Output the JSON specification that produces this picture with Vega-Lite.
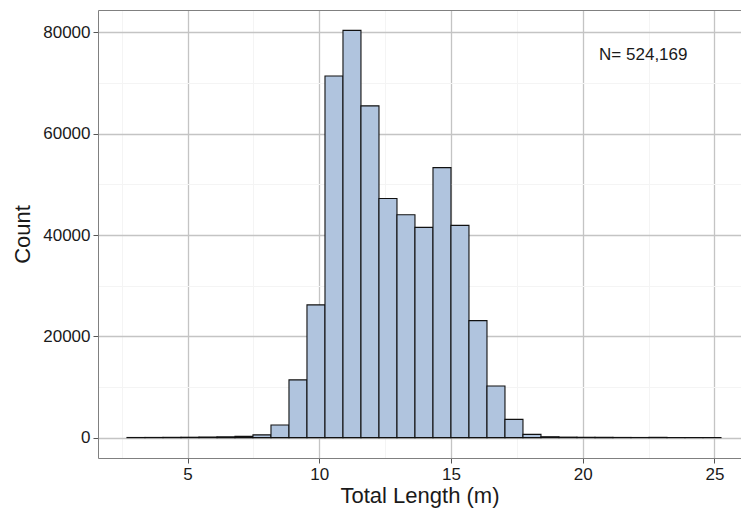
{
  "$schema": "https://vega.github.io/schema/vega-lite/v6.json",
  "autosize": {"type": "none"},
  "padding": {"left": 98, "top": 10, "right": 0, "bottom": 50},
  "width": 643,
  "height": 448,
  "background": "white",
  "config": {
    "view": {"stroke": null},
    "font": "Liberation Sans",
    "axis": {
      "labelFont": "Liberation Sans",
      "titleFont": "Liberation Sans",
      "labelColor": "#1a1a1a",
      "titleColor": "#1a1a1a",
      "titleFontWeight": "normal",
      "domainColor": "#808080",
      "domainWidth": 1
    }
  },
  "layer": [
    {
      "data": {
        "values": [
          {"start": 2.700, "end": 3.383, "count": 30},
          {"start": 3.383, "end": 4.067, "count": 40},
          {"start": 4.067, "end": 4.750, "count": 60},
          {"start": 4.750, "end": 5.433, "count": 80},
          {"start": 5.433, "end": 6.117, "count": 120},
          {"start": 6.117, "end": 6.800, "count": 180},
          {"start": 6.800, "end": 7.483, "count": 250},
          {"start": 7.483, "end": 8.167, "count": 550},
          {"start": 8.167, "end": 8.850, "count": 2500},
          {"start": 8.850, "end": 9.533, "count": 11400},
          {"start": 9.533, "end": 10.217, "count": 26200},
          {"start": 10.217, "end": 10.900, "count": 71400},
          {"start": 10.900, "end": 11.583, "count": 80400},
          {"start": 11.583, "end": 12.267, "count": 65500},
          {"start": 12.267, "end": 12.950, "count": 47200},
          {"start": 12.950, "end": 13.633, "count": 44000},
          {"start": 13.633, "end": 14.317, "count": 41500},
          {"start": 14.317, "end": 15.000, "count": 53300},
          {"start": 15.000, "end": 15.683, "count": 41900},
          {"start": 15.683, "end": 16.367, "count": 23100},
          {"start": 16.367, "end": 17.050, "count": 10200},
          {"start": 17.050, "end": 17.733, "count": 3600},
          {"start": 17.733, "end": 18.417, "count": 650},
          {"start": 18.417, "end": 19.100, "count": 180},
          {"start": 19.100, "end": 19.783, "count": 100},
          {"start": 19.783, "end": 20.467, "count": 70},
          {"start": 20.467, "end": 21.150, "count": 50},
          {"start": 21.150, "end": 21.833, "count": 40},
          {"start": 21.833, "end": 22.517, "count": 30},
          {"start": 22.517, "end": 23.200, "count": 60},
          {"start": 23.200, "end": 23.883, "count": 20},
          {"start": 23.883, "end": 24.567, "count": 20},
          {"start": 24.567, "end": 25.250, "count": 15}
        ]
      },
      "mark": {"type": "rect", "fill": "#b0c4de", "stroke": "#111111", "strokeWidth": 1.1},
      "encoding": {
        "x": {
          "field": "start",
          "type": "quantitative",
          "scale": {"domain": [1.6, 26.01], "nice": false, "zero": false},
          "axis": {
            "orient": "bottom",
            "title": "Total Length (m)",
            "titleFontSize": 22,
            "titlePadding": 3,
            "labelFontSize": 17,
            "labelPadding": 3,
            "values": [2.5, 5, 7.5, 10, 12.5, 15, 17.5, 20, 22.5, 25],
            "labelExpr": "datum.value % 5 === 0 ? datum.label : ''",
            "tickSize": 5,
            "tickColor": {"condition": {"test": "datum.value % 5 === 0", "value": "#555555"}, "value": "transparent"},
            "grid": true,
            "gridColor": {"condition": {"test": "datum.value % 5 === 0", "value": "#c4c4c4"}, "value": "#f4f4f4"},
            "gridWidth": {"condition": {"test": "datum.value % 5 === 0", "value": 1.3}, "value": 1}
          }
        },
        "x2": {"field": "end"},
        "y": {
          "field": "count",
          "type": "quantitative",
          "scale": {"domain": [-4020, 84420], "nice": false, "zero": false},
          "axis": {
            "title": "Count",
            "titleFontSize": 22,
            "titlePadding": 8,
            "labelFontSize": 17,
            "labelPadding": 3,
            "values": [0, 10000, 20000, 30000, 40000, 50000, 60000, 70000, 80000],
            "labelExpr": "datum.value % 20000 === 0 ? datum.label : ''",
            "format": "d",
            "tickSize": 5,
            "tickColor": {"condition": {"test": "datum.value % 20000 === 0", "value": "#555555"}, "value": "transparent"},
            "grid": true,
            "gridColor": {"condition": {"test": "datum.value % 20000 === 0", "value": "#c4c4c4"}, "value": "#f4f4f4"},
            "gridWidth": {"condition": {"test": "datum.value % 20000 === 0", "value": 1.3}, "value": 1}
          }
        },
        "y2": {"datum": 0}
      }
    },
    {
      "data": {"values": [{"label": "N= 524,169", "xpos": 22.3, "ypos": 75600}]},
      "mark": {"type": "text", "fontSize": 17, "font": "Liberation Sans", "color": "#1a1a1a", "align": "center", "baseline": "middle"},
      "encoding": {
        "x": {
          "field": "xpos",
          "type": "quantitative",
          "scale": {"domain": [1.6, 26.01], "nice": false, "zero": false},
          "axis": {"orient": "top", "title": null, "labels": false, "ticks": false, "grid": false, "domain": true}
        },
        "y": {"field": "ypos", "type": "quantitative"},
        "text": {"field": "label"}
      }
    }
  ],
  "resolve": {"scale": {"x": "independent"}, "axis": {"x": "independent"}}
}
